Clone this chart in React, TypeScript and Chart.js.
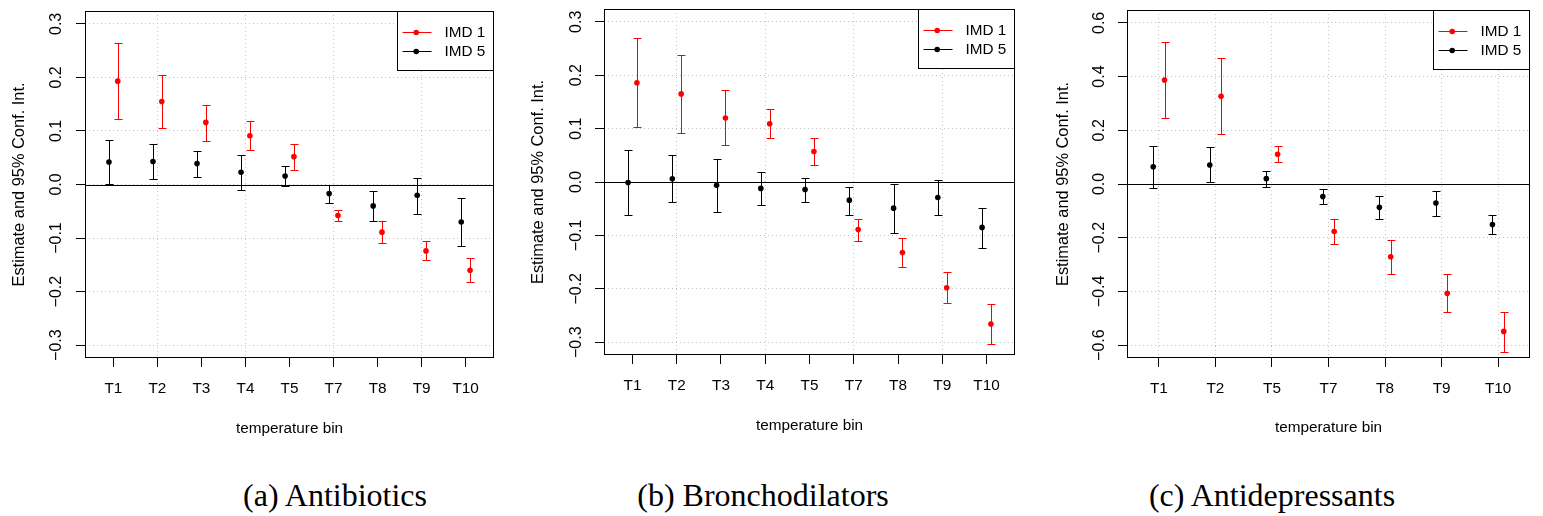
import React, { useEffect, useRef } from 'react';
import { Chart, registerables } from 'chart.js';

Chart.register(...registerables);

// ---------- data ----------
const catsAB = ['T1', 'T2', 'T3', 'T4', 'T5', 'T7', 'T8', 'T9', 'T10'];
const catsC = ['T1', 'T2', 'T5', 'T7', 'T8', 'T9', 'T10'];

const legendLabels = ['IMD 1', 'IMD 5'];

// (a) Antibiotics
const abxImd1Est = [0.193, 0.155, 0.116, 0.091, 0.052, -0.058, -0.089, -0.124, -0.160];
const abxImd1Lo = [0.122, 0.105, 0.081, 0.064, 0.028, -0.068, -0.109, -0.141, -0.182];
const abxImd1Hi = [0.265, 0.205, 0.149, 0.119, 0.076, -0.047, -0.069, -0.106, -0.137];
const abxImd5Est = [0.042, 0.043, 0.039, 0.023, 0.016, -0.017, -0.040, -0.020, -0.070];
const abxImd5Lo = [0.001, 0.010, 0.014, -0.010, -0.002, -0.034, -0.068, -0.055, -0.115];
const abxImd5Hi = [0.084, 0.076, 0.063, 0.056, 0.034, -0.001, -0.012, 0.013, -0.026];

// (b) Bronchodilators
const broImd1Est = [0.186, 0.165, 0.120, 0.109, 0.057, -0.089, -0.132, -0.198, -0.266];
const broImd1Lo = [0.103, 0.092, 0.069, 0.082, 0.032, -0.110, -0.160, -0.226, -0.303];
const broImd1Hi = [0.269, 0.237, 0.172, 0.136, 0.082, -0.069, -0.104, -0.169, -0.229];
const broImd5Est = [-0.001, 0.006, -0.006, -0.012, -0.014, -0.034, -0.049, -0.029, -0.085];
const broImd5Lo = [-0.062, -0.037, -0.056, -0.044, -0.037, -0.061, -0.096, -0.062, -0.124];
const broImd5Hi = [0.060, 0.050, 0.044, 0.019, 0.008, -0.009, -0.003, 0.004, -0.048];

// (c) Antidepressants
const depImd1Est = [0.387, 0.327, 0.111, -0.177, -0.271, -0.407, -0.549];
const depImd1Lo = [0.247, 0.187, 0.082, -0.225, -0.335, -0.477, -0.624];
const depImd1Hi = [0.529, 0.469, 0.141, -0.129, -0.207, -0.337, -0.476];
const depImd5Est = [0.064, 0.071, 0.020, -0.047, -0.087, -0.071, -0.151];
const depImd5Lo = [-0.016, 0.006, -0.010, -0.075, -0.129, -0.118, -0.188];
const depImd5Hi = [0.143, 0.136, 0.050, -0.020, -0.045, -0.025, -0.115];

const yTicksAB = [-0.3, -0.2, -0.1, 0, 0.1, 0.2, 0.3];
const yTicksC = [-0.6, -0.4, -0.2, 0, 0.2, 0.4, 0.6];
const yLimAB = 0.324;
const yLimC = 0.648;
const xGridAB = [2, 4, 6, 8];
const xGridC = [1, 2, 3, 4, 5, 6, 7];

const captions = ['(a) Antibiotics', '(b) Bronchodilators', '(c) Antidepressants'];
const yTitle = 'Estimate and 95% Conf. Int.';
const xTitle = 'temperature bin';

// ---------- style ----------
const FONT = "'Liberation Sans', Arial, Helvetica, sans-serif";
const SERIF = "'Liberation Serif', 'Times New Roman', serif";
const RED = '#ff0000';
const BLACK = '#000000';
const GRID = '#c4c4c4';
const CANVAS_H = 450;

type PanelCfg = {
  x: number;
  w: number;
  area: { left: number; top: number; right: number; bottom: number };
  cats: string[];
  series: { est: number[]; lo: number[]; hi: number[]; color: string; off: number }[];
  yTicks: number[];
  yLim: number;
  xGrid: number[];
  yTitlePad: number;
  yTickPad: number;
  xTitlePad: number;
  caption: string;
  captionCenter: number;
};

const panels: PanelCfg[] = [
  {
    x: 0, w: 520,
    area: { left: 85, top: 11, right: 494, bottom: 358 },
    cats: catsAB,
    series: [
      { est: abxImd1Est, lo: abxImd1Lo, hi: abxImd1Hi, color: RED, off: 0.1 },
      { est: abxImd5Est, lo: abxImd5Lo, hi: abxImd5Hi, color: BLACK, off: -0.1 },
    ],
    yTicks: yTicksAB, yLim: yLimAB, xGrid: xGridAB,
    yTitlePad: 9.4, yTickPad: 3.5, xTitlePad: 12.5,
    caption: captions[0], captionCenter: 335,
  },
  {
    x: 520, w: 520,
    area: { left: 84, top: 9, right: 495, bottom: 355 },
    cats: catsAB,
    series: [
      { est: broImd1Est, lo: broImd1Lo, hi: broImd1Hi, color: RED, off: 0.1 },
      { est: broImd5Est, lo: broImd5Lo, hi: broImd5Hi, color: BLACK, off: -0.1 },
    ],
    yTicks: yTicksAB, yLim: yLimAB, xGrid: xGridAB,
    yTitlePad: 8.7, yTickPad: 2.5, xTitlePad: 15,
    caption: captions[1], captionCenter: 763,
  },
  {
    x: 1040, w: 503,
    area: { left: 87, top: 10, right: 490, bottom: 358 },
    cats: catsC,
    series: [
      { est: depImd1Est, lo: depImd1Lo, hi: depImd1Hi, color: RED, off: 0.1 },
      { est: depImd5Est, lo: depImd5Lo, hi: depImd5Hi, color: BLACK, off: -0.1 },
    ],
    yTicks: yTicksC, yLim: yLimC, xGrid: xGridC,
    yTitlePad: 13.7, yTickPad: 2.2, xTitlePad: 13,
    caption: captions[2], captionCenter: 1272,
  },
];

const fmtY = (v: number) => (v < 0 ? '\u2212' : '') + Math.abs(v).toFixed(1);

const rPlotPlugin = {
  id: 'rPlot',
  beforeDatasetsDraw(chart: any) {
    const { ctx, chartArea, scales } = chart;
    const xs = scales.x;
    const ys = scales.y;
    ctx.save();
    // zero reference line
    const y0 = Math.round(ys.getPixelForValue(0)) + 0.5;
    ctx.strokeStyle = '#000';
    ctx.lineWidth = 1;
    ctx.beginPath();
    ctx.moveTo(chartArea.left, y0);
    ctx.lineTo(chartArea.right, y0);
    ctx.stroke();
    // error bars
    chart.data.datasets.forEach((ds: any) => {
      ctx.strokeStyle = ds.barColor;
      ctx.lineWidth = 1;
      ds.data.forEach((p: any, i: number) => {
        const px = Math.round(xs.getPixelForValue(p.x)) + 0.5;
        const yl = Math.round(ys.getPixelForValue(ds.low[i])) + 0.5;
        const yh = Math.round(ys.getPixelForValue(ds.high[i])) + 0.5;
        ctx.beginPath();
        ctx.moveTo(px, yl);
        ctx.lineTo(px, yh);
        ctx.moveTo(px - 4, yl);
        ctx.lineTo(px + 4, yl);
        ctx.moveTo(px - 4, yh);
        ctx.lineTo(px + 4, yh);
        ctx.stroke();
      });
    });
    ctx.restore();
  },
  afterDraw(chart: any) {
    const { ctx, chartArea } = chart;
    ctx.save();
    // plot box
    ctx.strokeStyle = '#000';
    ctx.lineWidth = 1;
    const l = Math.round(chartArea.left) + 0.5;
    const t = Math.round(chartArea.top) + 0.5;
    const r = Math.round(chartArea.right) - 0.5;
    const b = Math.round(chartArea.bottom) - 0.5;
    ctx.strokeRect(l, t, r - l, b - t);
    // legend
    const lw = 96;
    const lh = 59;
    const lx = r - lw;
    const ly = t;
    ctx.fillStyle = '#fff';
    ctx.fillRect(lx, ly, lw, lh);
    ctx.strokeRect(lx, ly, lw, lh);
    ctx.font = `15.3px ${FONT}`;
    ctx.textBaseline = 'middle';
    ctx.textAlign = 'left';
    chart.data.datasets.forEach((ds: any, i: number) => {
      const ry = Math.round(ly + 20 + i * 19.7) + 0.5;
      ctx.strokeStyle = ds.barColor;
      ctx.beginPath();
      ctx.moveTo(lx + 5, ry);
      ctx.lineTo(lx + 34, ry);
      ctx.stroke();
      ctx.fillStyle = ds.barColor;
      ctx.beginPath();
      ctx.arc(lx + 18.7, ry, 2.8, 0, Math.PI * 2);
      ctx.fill();
      ctx.fillStyle = '#000';
      ctx.fillText(ds.label, lx + 47, ry);
    });
    ctx.restore();
  },
};

function Panel({ cfg }: { cfg: PanelCfg }) {
  const ref = useRef<HTMLCanvasElement>(null);
  useEffect(() => {
    const canvas = ref.current;
    if (!canvas) return;
    const n = cfg.cats.length;
    const xMin = 0.7 - (n - 0.4) * 0.04;
    const xMax = n + 0.3 + (n - 0.4) * 0.04;
    const datasets = cfg.series.map((s, si) => ({
      type: 'scatter' as const,
      label: legendLabels[si],
      data: s.est.map((v, i) => ({ x: i + 1 + s.off, y: v })),
      low: s.lo,
      high: s.hi,
      barColor: s.color,
      pointRadius: 2.8,
      pointHoverRadius: 2.8,
      pointBackgroundColor: s.color,
      pointBorderWidth: 0,
      borderColor: s.color,
      showLine: false,
    }));
    const chart = new Chart(canvas, {
      type: 'scatter',
      data: { datasets } as any,
      plugins: [rPlotPlugin as any],
      options: {
        animation: false,
        responsive: false,
        maintainAspectRatio: false,
        events: [],
        layout: {
          padding: {
            left: 0,
            top: cfg.area.top,
            right: cfg.w - cfg.area.right,
            bottom: 0,
          },
        },
        plugins: {
          legend: { display: false },
          tooltip: { enabled: false },
          title: { display: false },
        },
        scales: {
          x: {
            type: 'linear',
            position: 'bottom',
            min: xMin,
            max: xMax,
            bounds: 'data',
            afterBuildTicks: (sc: any) => {
              sc.ticks = cfg.cats.map((_, i) => ({ value: i + 1 }));
            },
            afterFit: (sc: any) => {
              sc.height = CANVAS_H - cfg.area.bottom;
              sc.paddingLeft = 0;
              sc.paddingRight = 0;
            },
            ticks: {
              autoSkip: false,
              maxRotation: 0,
              minRotation: 0,
              padding: 13,
              color: '#000',
              font: { family: FONT, size: 15.3 },
              callback: (v: any) => cfg.cats[Math.round(Number(v)) - 1] ?? '',
            },
            grid: {
              color: (c: any) =>
                c.tick && cfg.xGrid.includes(Math.round(c.tick.value)) ? GRID : 'rgba(0,0,0,0)',
              lineWidth: 1,
              tickColor: '#000',
              tickLength: 9,
              tickWidth: 1,
            },
            border: { display: false, dash: [1, 3] },
            title: {
              display: true,
              text: xTitle,
              color: '#000',
              font: { family: FONT, size: 15.3 },
              padding: { top: 0, bottom: cfg.xTitlePad },
            },
          },
          y: {
            type: 'linear',
            position: 'left',
            min: -cfg.yLim,
            max: cfg.yLim,
            bounds: 'data',
            afterBuildTicks: (sc: any) => {
              sc.ticks = cfg.yTicks.map((v) => ({ value: v }));
            },
            afterFit: (sc: any) => {
              sc.width = cfg.area.left;
              sc.paddingTop = 0;
              sc.paddingBottom = 0;
            },
            ticks: {
              autoSkip: false,
              minRotation: 90,
              maxRotation: 90,
              crossAlign: 'center',
              padding: cfg.yTickPad,
              color: '#000',
              font: { family: FONT, size: 16 },
              callback: (v: any) => fmtY(Number(v)),
            },
            grid: {
              color: GRID,
              lineWidth: 1,
              tickColor: '#000',
              tickLength: 9,
              tickWidth: 1,
            },
            border: { display: false, dash: [1, 3] },
            title: {
              display: true,
              text: yTitle,
              color: '#000',
              font: { family: FONT, size: 16.4 },
              padding: { top: cfg.yTitlePad, bottom: 0 },
            },
          },
        },
      } as any,
    });
    return () => chart.destroy();
  }, [cfg]);
  return (
    <canvas
      ref={ref}
      width={cfg.w}
      height={CANVAS_H}
      style={{ position: 'absolute', left: cfg.x, top: 0, width: cfg.w, height: CANVAS_H }}
    />
  );
}

export default function App() {
  return (
    <div
      style={{
        position: 'absolute',
        left: 0,
        top: 0,
        width: 1543,
        height: 516,
        background: '#fff',
        overflow: 'hidden',
      }}
    >
      {panels.map((p, i) => (
        <Panel key={i} cfg={p} />
      ))}
      {panels.map((p, i) => (
        <div
          key={'c' + i}
          style={{
            position: 'absolute',
            left: p.captionCenter - 250,
            top: 479,
            width: 500,
            textAlign: 'center',
            fontFamily: SERIF,
            fontSize: 32,
            lineHeight: '32px',
            whiteSpace: 'pre',
            color: '#000',
          }}
        >
          {p.caption}
        </div>
      ))}
    </div>
  );
}
